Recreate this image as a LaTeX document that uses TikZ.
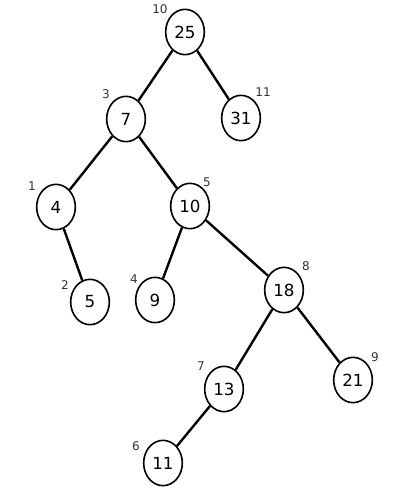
\documentclass[tikz,border=0pt]{standalone}
\usepackage{fontspec}
\setmainfont{DejaVu Sans}
\usetikzlibrary{shapes.geometric}

\tikzset{
  key/.style={draw, ellipse, line width=1.2pt, minimum width=29pt, minimum height=34pt, inner sep=0pt, font=\fontsize{12.5}{14}\selectfont},
  rank/.style={inner sep=0pt, text=black!80, font=\fontsize{9}{10}\selectfont},
  edge/.style={line width=1.8pt}
}

\begin{document}
\begin{tikzpicture}[x=0.75pt,y=0.75pt,yscale=-1,xscale=1]
        \useasboundingbox (0,0) rectangle (408,500);
        %Keys
        \node [key] (n25) at (185,32) {25};
        \node [key] (n7) at (126,119) {7};
        \node [key] (n31) at (241,118) {31};
        \node [key] (n4) at (56,207) {4};
        \node [key] (n10) at (190,206) {10};
        \node [key] (n5) at (90,302) {5};
        \node [key] (n9) at (155,300) {9};
        \node [key] (n18) at (284,290) {18};
        \node [key] (n13) at (224,389) {13};
        \node [key] (n21) at (353,380) {21};
        \node [key] (n11) at (163,463) {11};

        %Ranks
        \node [rank] (r25) at (160,9) {10};
        \node [rank] (r7) at (106,94) {3};
        \node [rank] (r31) at (263,92) {11};
        \node [rank] (r4) at (32,186) {1};
        \node [rank] (r10) at (207,182) {5};
        \node [rank] (r5) at (65,285) {2};
        \node [rank] (r9) at (134,279) {4};
        \node [rank] (r18) at (306,266) {8};
        \node [rank] (r13) at (201,366) {7};
        \node [rank] (r21) at (375,357) {9};
        \node [rank] (r11) at (136,446) {6};

        %Edges
        \draw [edge] (n25) -- (n7) ;
        \draw [edge] (n25) -- (n31) ;
        \draw [edge] (n7) -- (n4) ;
        \draw [edge] (n7) -- (n10) ;
        \draw [edge] (n4) -- (n5) ;
        \draw [edge] (n10) -- (n9) ;
        \draw [edge] (n10) -- (n18) ;
        \draw [edge] (n18) -- (n13) ;
        \draw [edge] (n18) -- (n21) ;
        \draw [edge] (n13) -- (n11) ;
    \end{tikzpicture}
\end{document}
